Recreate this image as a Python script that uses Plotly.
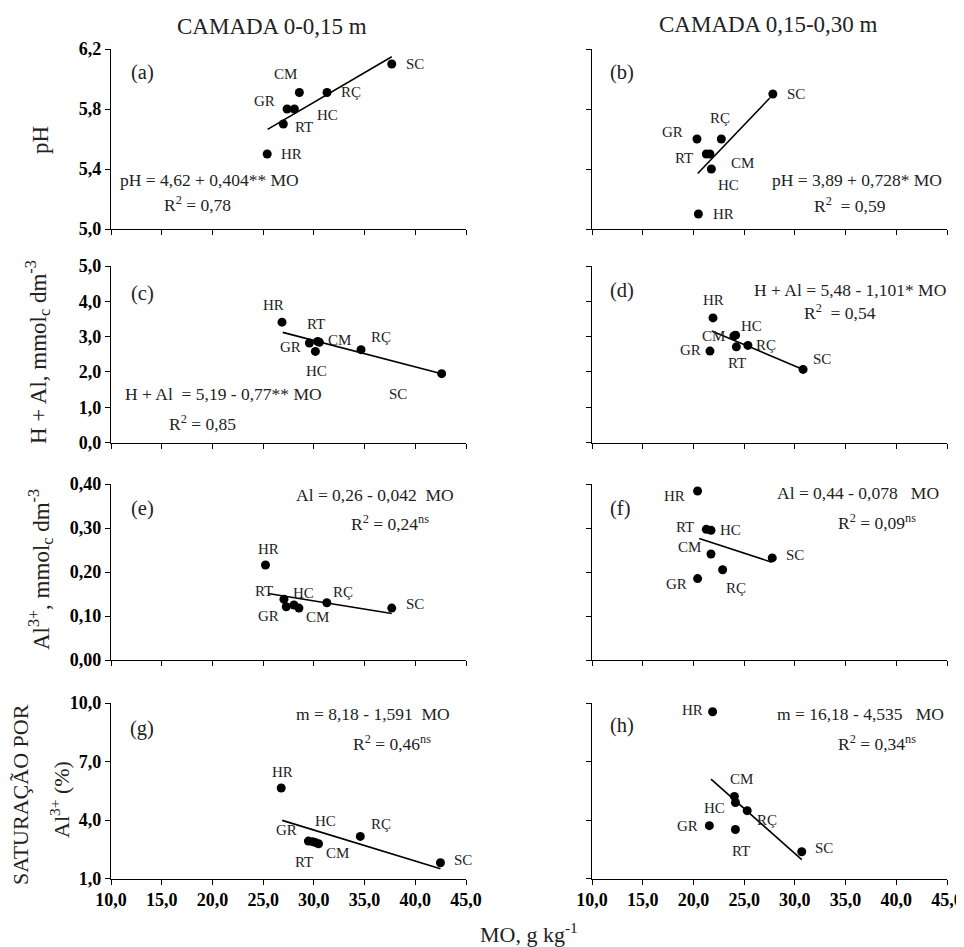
import plotly.graph_objects as go

# ---------------- DATA ----------------
soils = ["HR", "GR", "RT", "HC", "CM", "RÇ", "SC"]

# (a) pH, layer 0-0.15
a_mo = [25.4, 27.36, 26.99, 28.08, 28.57, 31.3, 37.68]
a_y = [5.50, 5.80, 5.70, 5.80, 5.91, 5.91, 6.10]
a_fit_x = [25.44, 37.68]
a_fit_y = [5.664, 6.148]

# (b) pH, layer 0.15-0.30
b_mo = [20.49, 20.35, 21.27, 21.77, 21.63, 22.75, 27.83]
b_y = [5.10, 5.60, 5.50, 5.40, 5.50, 5.60, 5.90]
b_fit_x = [20.42, 27.53]
b_fit_y = [5.37, 5.873]

# (c) H+Al, layer 0-0.15
c_mo = [26.86, 29.56, 30.38, 30.15, 30.54, 34.65, 42.6]
c_y = [3.41, 2.82, 2.86, 2.58, 2.84, 2.63, 1.95]
c_fit_x = [26.93, 42.6]
c_fit_y = [3.12, 1.95]

# (d) H+Al, layer 0.15-0.30
d_mo = [21.93, 21.63, 24.23, 24.16, 23.99, 25.37, 30.81]
d_y = [3.53, 2.59, 2.71, 3.04, 3.02, 2.75, 2.07]
d_fit_x = [21.8, 30.81]
d_fit_y = [3.16, 2.07]

# (e) Al3+, layer 0-0.15
e_mo = [25.23, 27.28, 27.05, 28.04, 28.53, 31.28, 37.68]
e_y = [0.216, 0.121, 0.138, 0.125, 0.118, 0.130, 0.118]
e_fit_x = [25.49, 37.68]
e_fit_y = [0.151, 0.1055]

# (f) Al3+, layer 0.15-0.30
f_mo = [20.41, 20.41, 21.27, 21.73, 21.73, 22.88, 27.77]
f_y = [0.384, 0.185, 0.297, 0.295, 0.241, 0.205, 0.232]
f_fit_x = [20.57, 27.71]
f_fit_y = [0.276, 0.2224]

# (g) m (%), layer 0-0.15
g_mo = [26.78, 29.46, 29.86, 30.13, 30.46, 34.58, 42.48]
g_y = [5.64, 2.92, 2.89, 2.85, 2.78, 3.16, 1.81]
g_fit_x = [26.88, 42.48]
g_fit_y = [3.98, 1.50]

# (h) m (%), layer 0.15-0.30
h_mo = [21.89, 21.57, 24.14, 24.14, 24.04, 25.30, 30.68]
h_y = [9.55, 3.71, 3.51, 4.90, 5.21, 4.48, 2.37]
h_fit_x = [21.73, 30.68]
h_fit_y = [6.10, 1.97]

x_ticks = [10, 15, 20, 25, 30, 35, 40, 45]
ph_ticks = [5.0, 5.4, 5.8, 6.2]
hal_ticks = [0, 1, 2, 3, 4, 5]
al_ticks = [0.0, 0.1, 0.2, 0.3, 0.4]
m_ticks = [1, 4, 7, 10]

equations = {
    "a": ["pH = 4,62 + 0,404** MO", "R<sup>2</sup> = 0,78"],
    "b": ["pH = 3,89 + 0,728* MO", "R<sup>2</sup>  = 0,59"],
    "c": ["H + Al  = 5,19 - 0,77** MO", "R<sup>2</sup> = 0,85"],
    "d": ["H + Al = 5,48 - 1,101* MO", "R<sup>2</sup>  = 0,54"],
    "e": ["Al = 0,26 - 0,042  MO", "R<sup>2</sup> = 0,24<sup>ns</sup>"],
    "f": ["Al = 0,44 - 0,078   MO", "R<sup>2</sup> = 0,09<sup>ns</sup>"],
    "g": ["m = 8,18 - 1,591  MO", "R<sup>2</sup> = 0,46<sup>ns</sup>"],
    "h": ["m = 16,18 - 4,535   MO", "R<sup>2</sup> = 0,34<sup>ns</sup>"],
}

# ---------------- LAYOUT / STYLE ----------------
# the html page body has an 8px margin: shift the figure's own coordinates
OFF = 8
W, H = 964 - OFF, 947 - OFF
FONT = "Liberation Serif"
TXT = "#222"

def px(x, y):
    return (x - OFF) / W, 1 - (y - OFF) / H

col_x = [(111, 466), (592, 947)]
row_y = [(49, 229), (266, 442.5), (484, 660), (703, 878.5)]

panels = [
    ("a", 0, 0, a_mo, a_y, a_fit_x, a_fit_y, [5.0, 6.2], ph_ticks, ".1f",
     [(24, 0), (-23, 8), (21, -3), (33, -6), (-14, 18), (24, 0), (23, 0)]),
    ("b", 0, 1, b_mo, b_y, b_fit_x, b_fit_y, [5.0, 6.2], ph_ticks, ".1f",
     [(25, 0), (-24, 7), (-22, -4), (17, -16), (33, -9), (-1, 21), (23, 0)]),
    ("c", 1, 0, c_mo, c_y, c_fit_x, c_fit_y, [0, 5], hal_ticks, ".1f",
     [(-9, 17), (-19, -4), (-2, 18), (1, -20), (20, 2), (20, 13), (-44, -20)]),
    ("d", 1, 1, d_mo, d_y, d_fit_x, d_fit_y, [0, 5], hal_ticks, ".1f",
     [(0, 18), (-19, 1), (1, -16), (16, 9), (-20, 0), (18, 0), (19, 10)]),
    ("e", 2, 0, e_mo, e_y, e_fit_x, e_fit_y, [0, 0.4], al_ticks, ".2f",
     [(3, 16), (-18, -9), (-20, 8), (10, 12), (19, -9), (16, 11), (23, 4)]),
    ("f", 2, 1, f_mo, f_y, f_fit_x, f_fit_y, [0, 0.4], al_ticks, ".2f",
     [(-23, -5), (-21, -5), (-21, 2), (20, 0), (-21, 7), (13, -18), (23, 3)]),
    ("g", 3, 0, g_mo, g_y, g_fit_x, g_fit_y, [1, 10], m_ticks, ".1f",
     [(1, 16), (-22, 11), (-8, -20), (10, 21), (19, -9), (21, 12), (23, 3)]),
    ("h", 3, 1, h_mo, h_y, h_fit_x, h_fit_y, [1, 10], m_ticks, ".1f",
     [(-20, 2), (-22, 0), (6, -21), (-21, -6), (7, 17), (20, -9), (22, 4)]),
]

eq_pos = {
    "a": [(209, 180), (197, 204)],
    "b": [(857, 180), (850, 205)],
    "c": [(223, 394), (202, 423)],
    "d": [(850, 290), (840, 312)],
    "e": [(375, 495), (390, 523)],
    "f": [(858, 493), (877, 522)],
    "g": [(373, 714), (392, 743)],
    "h": [(860, 714), (877, 743)],
}
letter_pos = {
    "a": (142, 73), "b": (622, 73), "c": (142, 293), "d": (622, 290),
    "e": (142, 508), "f": (620, 508), "g": (142, 728), "h": (622, 725),
}

fig = go.Figure()
annotations = []

for i, (key, r, c, mo, yv, fx, fy, yr, yt, fmt, offs) in enumerate(panels):
    n = i + 1
    xa = "x" if n == 1 else f"x{n}"
    ya = "y" if n == 1 else f"y{n}"
    fig.add_trace(go.Scatter(x=fx, y=fy, mode="lines", xaxis=xa, yaxis=ya,
                             line=dict(color="black", width=1.6), showlegend=False,
                             hoverinfo="skip"))
    fig.add_trace(go.Scatter(x=mo, y=yv, mode="markers", xaxis=xa, yaxis=ya,
                             marker=dict(color="black", size=9, line=dict(width=0)),
                             showlegend=False))
    for s, xv, yy, (dx, dy) in zip(soils, mo, yv, offs):
        annotations.append(dict(x=xv, y=yy, xref=xa, yref=ya, text=s, showarrow=False,
                                xshift=dx, yshift=dy,
                                font=dict(family=FONT, size=15, color=TXT)))
    x0, x1 = col_x[c]
    y0, y1 = row_y[r]
    xd = [(x0 - OFF) / W, min(1.0, (x1 - OFF) / W)]
    yd = [1 - (y1 - OFF) / H, 1 - (y0 - OFF) / H]
    axname_x = "xaxis" if n == 1 else f"xaxis{n}"
    axname_y = "yaxis" if n == 1 else f"yaxis{n}"
    fig.update_layout(**{
        axname_x: dict(domain=xd, range=[10, 45], tickvals=x_ticks, tickformat=".1f",
                       anchor=ya, showline=True, linecolor="black", linewidth=1.3,
                       ticks="outside", ticklen=5, tickcolor="black", tickwidth=1.2,
                       showgrid=False, zeroline=False, showticklabels=(r == 3),
                       automargin=False,
                       tickfont=dict(family=FONT, size=18, color="black", weight="bold")),
        axname_y: dict(domain=yd, range=yr, tickvals=yt, tickformat=fmt,
                       anchor=xa, showline=True, linecolor="black", linewidth=1.3,
                       ticks="outside", ticklen=5, tickcolor="black", tickwidth=1.2,
                       showgrid=False, zeroline=False, showticklabels=(c == 0),
                       automargin=False,
                       tickfont=dict(family=FONT, size=18, color="black", weight="bold")),
    })
    for txt, (ex, ey) in zip(equations[key], eq_pos[key]):
        X, Y = px(ex, ey)
        annotations.append(dict(x=X, y=Y, xref="paper", yref="paper", text=txt,
                                showarrow=False, xanchor="center", yanchor="middle",
                                font=dict(family=FONT, size=17.5, color=TXT)))
    lx, ly = letter_pos[key]
    X, Y = px(lx, ly)
    annotations.append(dict(x=X, y=Y, xref="paper", yref="paper", text=f"({key})",
                            showarrow=False, xanchor="center", yanchor="middle",
                            font=dict(family=FONT, size=20.5, color=TXT)))

titles = [
    ("CAMADA 0-0,15 m", 272, 27, 0, 23),
    ("CAMADA 0,15-0,30 m", 768, 25, 0, 23),
    ("pH", 40, 140, -90, 23),
    ("H + Al, mmol<sub>c</sub> dm<sup>-3</sup>", 38, 352, -90, 23),
    ("Al<sup>3+</sup>, mmol<sub>c</sub> dm<sup>-3</sup>", 40, 570, -90, 23),
    ("SATURAÇÃO POR", 20, 795, -90, 22),
    ("Al<sup>3+</sup> (%)", 60, 800, -90, 22),
    ("MO, g kg<sup>-1</sup>", 529, 933, 0, 22),
]
for txt, tx, ty, ang, fs in titles:
    X, Y = px(tx, ty)
    annotations.append(dict(x=X, y=Y, xref="paper", yref="paper", text=txt,
                            showarrow=False, xanchor="center", yanchor="middle",
                            textangle=ang,
                            font=dict(family=FONT, size=fs, color=TXT)))

fig.update_layout(
    template="none",
    width=W, height=H,
    margin=dict(l=0, r=0, t=0, b=0, autoexpand=False),
    paper_bgcolor="white", plot_bgcolor="white",
    separators=",.",
    annotations=annotations,
    showlegend=False,
)

fig.write_html("out.html")
